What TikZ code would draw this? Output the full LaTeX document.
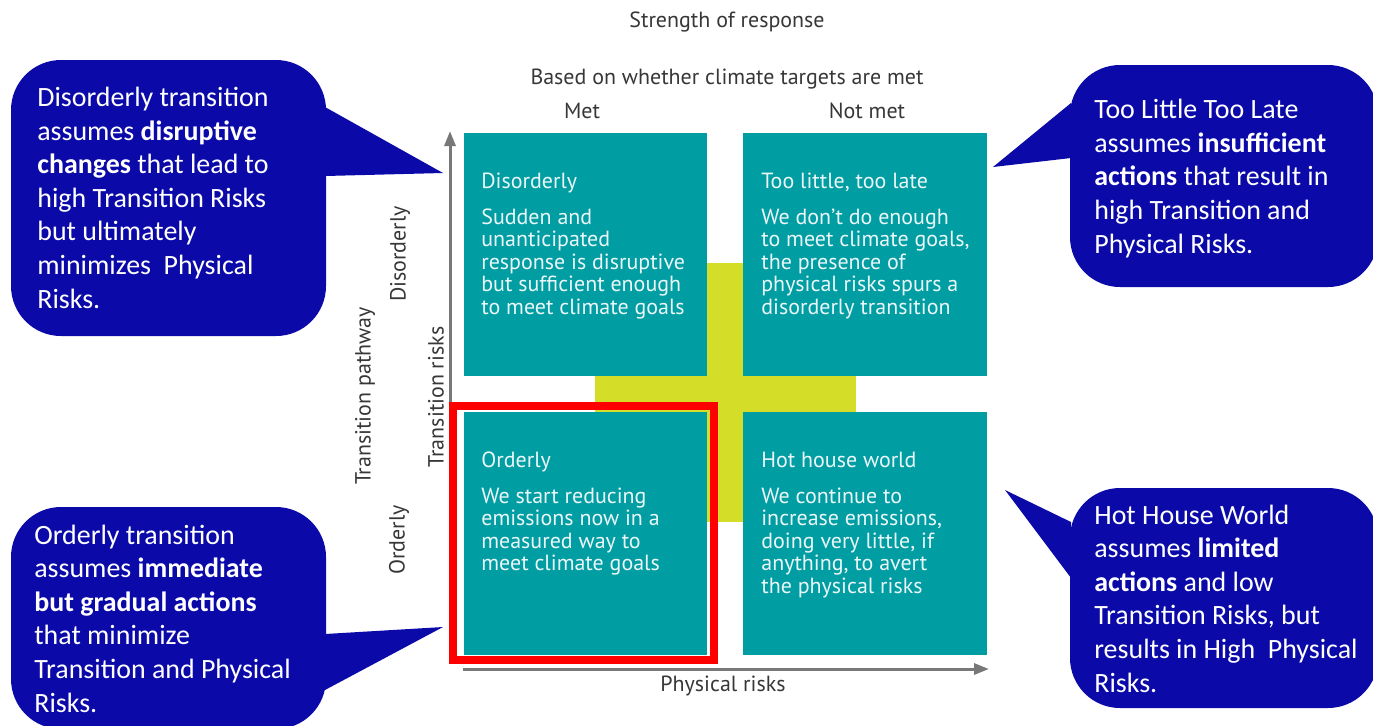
\documentclass[tikz,border=0pt]{standalone}
\usepackage{fontspec}
\setmainfont{Carlito}
\newfontfamily\quadfont{PT Sans}
\usepackage{xcolor}
\usetikzlibrary{arrows.meta}
\definecolor{calloutblue}{RGB}{11,10,168}
\definecolor{quadteal}{RGB}{0,157,163}
\definecolor{crossyellow}{RGB}{212,222,40}
\definecolor{axisgray}{RGB}{120,120,120}
\definecolor{labelgray}{RGB}{55,55,55}

\begin{document}
\begin{tikzpicture}[x=0.02cm,y=-0.02cm,
  bubble/.style={fill=calloutblue},
  bubbletext/.style={text=white,align=left,inner sep=0pt,anchor=base west,font=\fontsize{15.9}{19.1}\selectfont},
  quad/.style={fill=quadteal,inner sep=0pt,minimum width=4.88cm,minimum height=4.86cm},
  quadtitle/.style={text=white!92!quadteal,inner sep=0pt,anchor=base west,font=\quadfont\fontsize{12.5}{12.8}\selectfont},
  quadbody/.style={quadtitle,align=left},
  axislabel/.style={text=labelgray,inner sep=0pt,font=\quadfont\fontsize{12.5}{13}\selectfont},
  axisline/.style={axisgray,line width=0.06cm,-{Triangle[length=0.3cm,width=0.22cm]}}]
\useasboundingbox (0,0) rectangle (1373,725);
\clip (0,0) rectangle (1373,725);

% the cross behind the four boxes
\fill [crossyellow] (595,263) rectangle (856,522);
\node [quad] (disorderly) at (585.5,254.5) {};
\node [quad] (toolate) at (865,254.5) {};
\node [quad] (orderly) at (585.5,533.5) {};
\node [quad] (hothouse) at (865,533.5) {};

% multi-line texts sit on the baseline of their last line
\node [quadtitle] (disorderlytitle) at (481,188) {Disorderly};
\node [quadbody] (disorderlytext) at (481,314) {Sudden and\\unanticipated\\response is disruptive\\but sufficient enough\\to meet climate goals};
\node [quadtitle] (toolatetitle) at (761,188) {Too little, too late};
\node [quadbody] (toolatetext) at (761,314) {We don’t do enough\\to meet climate goals,\\the presence of\\physical risks spurs a\\disorderly transition};
\node [quadtitle] (orderlytitle) at (481,467) {Orderly};
\node [quadbody] (orderlytext) at (481,570.5) {We start reducing\\emissions now in a\\measured way to\\meet climate goals};
\node [quadtitle] (hothousetitle) at (761,467) {Hot house world};
\node [quadbody] (hothousetext) at (761,593) {We continue to\\increase emissions,\\doing very little, if\\anything, to avert\\the physical risks};

% axes
\coordinate (ytail) at (450,655);
\coordinate (yhead) at (450,131);
\coordinate (xtail) at (463,669);
\coordinate (xhead) at (989,669);
\draw [axisline] (ytail) -- (yhead);
\draw [axisline] (xtail) -- (xhead);
\draw [red,line width=0.16cm] (453,406) rectangle (714,660);

\node [axislabel,anchor=base] (strength) at (727,27) {Strength of response};
\node [axislabel,anchor=base] (basedon) at (727,84) {Based on whether climate targets are met};
\node [axislabel,anchor=base] (met) at (582,118) {Met};
\node [axislabel,anchor=base] (notmet) at (867,118) {Not met};
\node [axislabel] (physical) at (723,686) {Physical risks};
\node [axislabel,rotate=90] (transrisks) at (436,397) {Transition risks};
\node [axislabel,rotate=90] (pathway) at (365,396) {Transition pathway};
\node [axislabel,rotate=90] (disorderlyside) at (400,254) {Disorderly};
\node [axislabel,rotate=90] (orderlyside) at (399,540) {Orderly};

% speech bubbles
\fill [bubble,rounded corners=1cm] (11,60) rectangle (326,336);
\fill [bubble] (325,107) -- (443,173) -- (325,176) -- cycle;
\node [bubbletext] (disordernote) at (37,308) {Disorderly transition\\assumes \textbf{disruptive}\\\textbf{changes} that lead to\\high Transition Risks\\but ultimately\\minimizes\ \ Physical\\Risks.};

\fill [bubble,rounded corners=1cm] (11,507) rectangle (326,729);
\fill [bubble] (325,634) -- (443,627) -- (325,690) -- cycle;
\node [bubbletext] (ordernote) at (34,712) {Orderly transition\\assumes \textbf{immediate}\\\textbf{but gradual actions}\\that minimize\\Transition and Physical\\Risks.};

\fill [bubble,rounded corners=1cm] (1070,65) rectangle (1378,287);
\fill [bubble] (1071,103) -- (993,167) -- (1071,158) -- cycle;
\node [bubbletext] (latenote) at (1094,253) {Too Little Too Late\\assumes \textbf{insufficient}\\\textbf{actions} that result in\\high Transition and\\Physical Risks.};

\fill [bubble,rounded corners=1cm] (1070,488) rectangle (1378,708);
\fill [bubble] (1071,522) -- (1005,490) -- (1071,578) -- cycle;
\node [bubbletext] (hotnote) at (1094,692) {Hot House World\\assumes \textbf{limited}\\\textbf{actions} and low\\Transition Risks, but\\results in High\ \ Physical\\Risks.};

\end{tikzpicture}
\end{document}
